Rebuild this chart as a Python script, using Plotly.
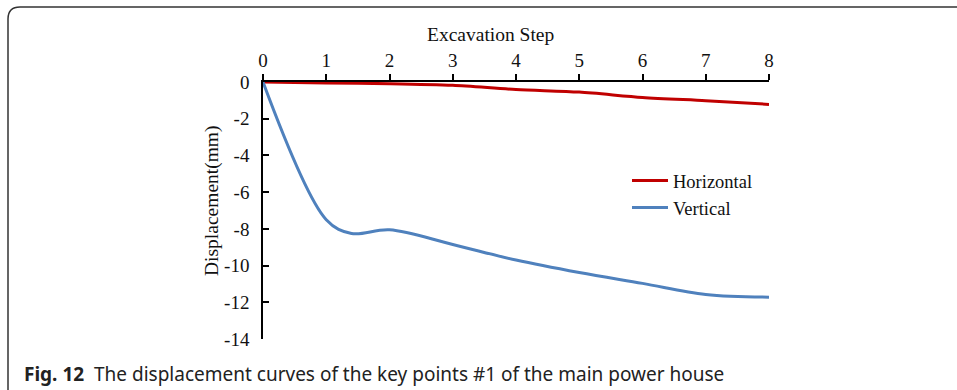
import plotly.graph_objects as go

# ---- data ----
steps_h = [0, 1, 2, 3, 4, 5, 6, 7, 8]
horizontal = [0.0, -0.05, -0.09, -0.18, -0.41, -0.55, -0.84, -1.02, -1.22]

steps_v = [0, 1, 1.4, 2, 3, 4, 5, 6, 7, 8]
vertical = [0.0, -7.5, -8.25, -8.05, -8.85, -9.70, -10.38, -10.97, -11.57, -11.72]

x_ticks = [0, 1, 2, 3, 4, 5, 6, 7, 8]
y_ticks = [0, -2, -4, -6, -8, -10, -12, -14]
y_tick_text = ["0", "-2", "-4", "-6", "-8", "-10", "-12", "-14"]

W, H = 957, 390
L, R, T, B = 263, 957 - 769, 82, 390 - 339
PW, PH = W - L - R, H - T - B

def px(x):
    return (x - L) / PW

def py(y):
    return 1 - (y - T) / PH

serif = "Liberation Serif, Times New Roman, serif"

fig = go.Figure()
fig.add_trace(go.Scatter(x=steps_h, y=horizontal, mode="lines", name="Horizontal",
                         line=dict(color="#C00000", width=3, shape="spline", smoothing=0.8)))
fig.add_trace(go.Scatter(x=steps_v, y=vertical, mode="lines", name="Vertical",
                         line=dict(color="#4F81BD", width=3, shape="spline", smoothing=1.0)))

fig.update_layout(
    width=W, height=H,
    margin=dict(l=L, r=R, t=T, b=B),
    paper_bgcolor="white", plot_bgcolor="rgba(0,0,0,0)",
    showlegend=True,
    legend=dict(x=px(627), y=py(162), xanchor="left", yanchor="top",
                font=dict(family=serif, size=18.5, color="#111"),
                bgcolor="rgba(0,0,0,0)", itemwidth=36),
    xaxis=dict(range=[0, 8], side="top", tickvals=x_ticks, showgrid=False, zeroline=False,
               showline=True, linecolor="black", linewidth=1.5,
               ticks="outside", ticklen=6, tickwidth=1.5, tickcolor="black",
               tickfont=dict(family=serif, size=19, color="#111")),
    yaxis=dict(range=[-14, 0], tickvals=y_ticks, ticktext=y_tick_text, showgrid=False, zeroline=False,
               showline=True, linecolor="black", linewidth=1.5,
               ticks="inside", ticklen=6, tickwidth=1.5, tickcolor="black",
               ticklabelstandoff=8,
               tickfont=dict(family=serif, size=19, color="#111")),
    annotations=[
        dict(text="Excavation Step", x=px(490), y=py(34), xref="paper", yref="paper",
             showarrow=False, xanchor="center", yanchor="middle",
             font=dict(family=serif, size=19.5, color="#111")),
        dict(text="Displacement(mm)", x=px(212), y=py(201), xref="paper", yref="paper",
             showarrow=False, xanchor="center", yanchor="middle", textangle=-90,
             font=dict(family=serif, size=19.5, color="#111")),
        dict(text="<b>Fig. 12</b>  The displacement curves of the key points #1 of the main power house",
             x=px(22), y=py(374), xref="paper", yref="paper",
             showarrow=False, xanchor="left", yanchor="middle",
             font=dict(family="Noto Sans, sans-serif", size=19, color="#222")),
    ],
    shapes=[
        dict(type="path", xref="paper", yref="paper",
             path=(f"M {px(8)} {py(395)} L {px(8)} {py(19)} "
                   f"Q {px(8)} {py(7)} {px(20)} {py(7)} L {px(960)} {py(7)}"),
             line=dict(color="#333", width=1.5)),
    ],
)

fig.write_html("out.html", config={"displayModeBar": False},
               post_script="document.body.style.margin='0';")
